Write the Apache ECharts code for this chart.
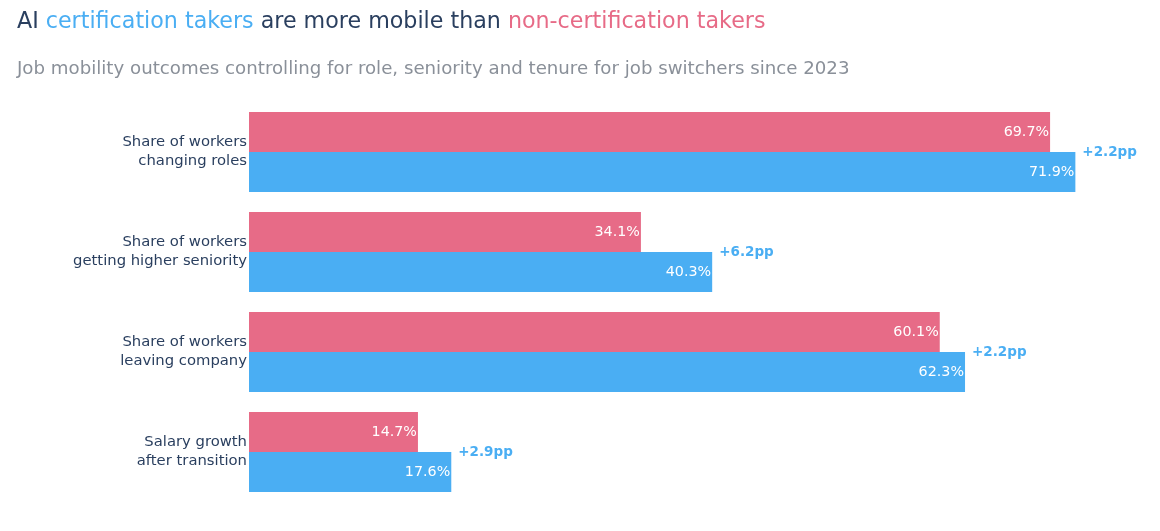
<!DOCTYPE html>
<html>
<head>
<meta charset="utf-8">
<script src="https://cdn.jsdelivr.net/npm/echarts@6/dist/echarts.min.js"></script>
<style>
  html, body { margin: 0; padding: 0; background: #fff; }
  #chart { width: 1160px; height: 531px; }
</style>
</head>
<body>
<div id="chart"></div>
<script>
// data
const categories = [
  'Share of workers\nchanging roles',
  'Share of workers\ngetting higher seniority',
  'Share of workers\nleaving company',
  'Salary growth\nafter transition'
];
const nonCertValues = [69.7, 34.1, 60.1, 14.7];
const certValues = [71.9, 40.3, 62.3, 17.6];

const PINK = '#E76B87';
const BLUE = '#4AAEF3';
const NAVY = '#2A3F5F';
const FONT = '"DejaVu Sans", Verdana, sans-serif';

// gap between the two groups, in percentage points
const gapValues = certValues.map((v, i) => +(v - nonCertValues[i]).toFixed(1));

const chart = echarts.init(document.getElementById('chart'));

const titleStyle = color => ({ fontSize: 22.2, color: color, fontWeight: 'normal', fontFamily: FONT });

const option = {
  animation: false,
  textStyle: { fontFamily: FONT },
  title: [
    {
      left: 12,
      top: 6,
      text: '{a|AI }{b|certification takers}{a| are more mobile than }{c|non-certification takers}',
      textStyle: {
        fontWeight: 'normal',
        rich: {
          a: titleStyle(NAVY),
          b: titleStyle(BLUE),
          c: titleStyle(PINK)
        }
      }
    },
    {
      left: 12,
      top: 55,
      text: 'Job mobility outcomes controlling for role, seniority and tenure for job switchers since 2023',
      textStyle: { fontSize: 18.2, color: '#8A9099', fontWeight: 'normal', fontFamily: FONT }
    }
  ],
  grid: {
    left: 249,
    top: 102,
    width: 862,
    height: 400
  },
  xAxis: {
    type: 'value',
    min: 0,
    max: 75,
    show: false,
    splitLine: { show: false }
  },
  yAxis: {
    type: 'category',
    data: categories,
    inverse: true,
    axisLine: { show: false },
    axisTick: { show: false },
    axisLabel: {
      color: NAVY,
      fontSize: 14.8,
      lineHeight: 19,
      margin: 2,
      align: 'right',
      fontFamily: FONT
    }
  },
  series: [
    {
      name: 'non-certification takers',
      type: 'bar',
      data: nonCertValues,
      barWidth: 40,
      barGap: '0%',
      barCategoryGap: '20%',
      itemStyle: { color: PINK },
      label: {
        show: true,
        position: 'insideRight',
        distance: 1,
        color: '#fff',
        fontSize: 14.3,
        fontFamily: FONT,
        formatter: p => p.value.toFixed(1) + '%'
      }
    },
    {
      name: 'certification takers',
      type: 'bar',
      data: certValues,
      barWidth: 40,
      barGap: '0%',
      itemStyle: { color: BLUE },
      label: {
        show: true,
        position: 'insideRight',
        distance: 1,
        color: '#fff',
        fontSize: 14.3,
        fontFamily: FONT,
        formatter: p => p.value.toFixed(1) + '%'
      }
    },
    {
      name: 'gap',
      type: 'scatter',
      symbolSize: 0,
      itemStyle: { opacity: 1 },
      data: certValues.map((v, i) => [v, i]),
      label: {
        show: true,
        position: 'right',
        distance: 7,
        color: BLUE,
        fontSize: 13.5,
        fontWeight: 'bold',
        fontFamily: FONT,
        formatter: p => '+' + gapValues[p.dataIndex].toFixed(1) + 'pp'
      }
    }
  ]
};

chart.setOption(option);
</script>
</body>
</html>
